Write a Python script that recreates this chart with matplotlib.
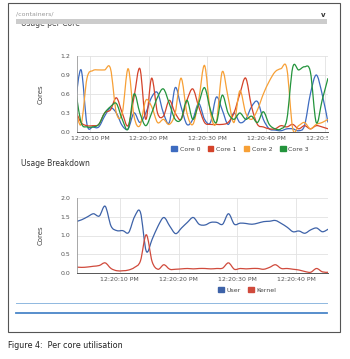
import numpy as np
import matplotlib
matplotlib.use("Agg")
import matplotlib.pyplot as plt
from matplotlib.path import Path
from matplotlib.patches import PathPatch, Patch, Rectangle
from matplotlib.lines import Line2D
from matplotlib.transforms import Bbox, TransformedBbox

# --- data (seconds after 12:20:00) ---
core_t = np.arange(7.5, 51.0, 1.0)
core0 = [0.45, 0.98, 0.12, 0.08, 0.08, 0.25, 0.38, 0.30, 0.10, 0.05, 0.30, 0.15, 0.30, 0.55, 0.62,
         0.30, 0.15, 0.70, 0.40, 0.12, 0.20, 0.45, 0.20, 0.15, 0.55, 0.35, 0.12, 0.30, 0.15, 0.20,
         0.40, 0.48, 0.20, 0.05, 0.03, 0.02, 0.05, 0.05, 0.02, 0.10, 0.60, 0.90, 0.60, 0.15]
core1 = [0.35, 0.15, 0.10, 0.10, 0.12, 0.30, 0.35, 0.54, 0.30, 0.10, 0.55, 1.00, 0.20, 0.85, 0.30,
         0.25, 0.50, 0.30, 0.20, 0.50, 0.68, 0.40, 0.15, 0.12, 0.12, 0.12, 0.15, 0.30, 0.60, 0.85,
         0.40, 0.12, 0.08, 0.05, 0.05, 0.10, 0.08, 0.12, 0.05, 0.10, 0.05, 0.10, 0.08, 0.05]
core2 = [0.40, 0.12, 0.85, 0.97, 0.98, 0.98, 1.00, 0.30, 0.30, 1.00, 0.25, 0.10, 0.50, 0.40, 0.15,
         0.20, 0.12, 0.30, 0.85, 0.30, 0.12, 0.50, 1.05, 0.30, 0.15, 0.95, 0.55, 0.15, 0.65, 0.30,
         0.20, 0.35, 0.60, 0.80, 0.95, 1.00, 1.00, 0.05, 0.10, 0.15, 0.05, 0.12, 0.15, 0.20]
core3 = [0.70, 0.15, 0.08, 0.08, 0.12, 0.30, 0.40, 0.45, 0.20, 0.05, 0.60, 0.30, 0.10, 0.30, 0.55,
         0.68, 0.45, 0.20, 0.20, 0.50, 0.20, 0.45, 0.70, 0.35, 0.15, 0.58, 0.30, 0.20, 0.30, 0.20,
         0.25, 0.15, 0.32, 0.12, 0.05, 0.05, 0.20, 1.02, 0.98, 1.03, 0.95, 0.15, 0.50, 0.85]

usage_t = np.arange(2.5, 46.0, 1.0)
user = [1.37, 1.42, 1.50, 1.58, 1.52, 1.78, 1.25, 1.13, 1.13, 1.08, 1.50, 1.62, 0.58, 0.90, 1.25,
        1.48, 1.25, 1.05, 1.20, 1.35, 1.48, 1.30, 1.28, 1.35, 1.35, 1.30, 1.58, 1.30, 1.33, 1.32,
        1.30, 1.33, 1.37, 1.38, 1.40, 1.32, 1.22, 1.10, 1.12, 1.06, 1.15, 1.20, 1.10, 1.17]
kernel = [0.16, 0.15, 0.16, 0.18, 0.20, 0.27, 0.12, 0.06, 0.06, 0.08, 0.15, 0.32, 1.02, 0.30, 0.10,
          0.22, 0.10, 0.10, 0.11, 0.12, 0.11, 0.12, 0.12, 0.11, 0.12, 0.13, 0.27, 0.10, 0.12, 0.11,
          0.12, 0.12, 0.10, 0.15, 0.22, 0.12, 0.12, 0.10, 0.08, 0.04, 0.02, 0.12, 0.03, 0.02]

core_names = ["Core 0", "Core 1", "Core 2", "Core 3"]
core_colors = ["#3d6bc0", "#d4432a", "#f7a036", "#23943c"]
usage_names = ["User", "Kernel"]
usage_colors = ["#3d62a8", "#d04a3c"]

tick1 = [10, 20, 30, 40, 50]
tick1_labels = ["12:20:10 PM", "12:20:20 PM", "12:20:30 PM", "12:20:40 PM", "12:20:50 PM"]
tick2 = [10, 20, 30, 40]
tick2_labels = ["12:20:10 PM", "12:20:20 PM", "12:20:30 PM", "12:20:40 PM"]


def smooth_line(ax, x, y, color):
    # smooth curve through the points, like the charting lib's "function" curves
    x = np.asarray(x, float)
    y = np.asarray(y, float)
    n = len(x)
    verts = [(x[0], y[0])]
    codes = [Path.MOVETO]
    for i in range(n - 1):
        a = max(i - 1, 0)
        b = min(i + 2, n - 1)
        c1 = (x[i] + (x[i + 1] - x[a]) / 6, y[i] + (y[i + 1] - y[a]) / 6)
        c2 = (x[i + 1] - (x[b] - x[i]) / 6, y[i + 1] - (y[b] - y[i]) / 6)
        verts += [c1, c2, (x[i + 1], y[i + 1])]
        codes += [Path.CURVE4] * 3
    ax.add_patch(PathPatch(Path(verts, codes), fill=False, edgecolor=color, lw=0.9))


def style(ax, yticks, xticks, xlabels):
    ax.set_yticks(yticks)
    ax.set_yticklabels(["%.1f" % v for v in yticks])
    ax.set_xticks(xticks)
    ax.set_xticklabels(xlabels)
    ax.tick_params(length=0, labelsize=4.5, colors="#555555")
    ax.tick_params(axis="y", pad=5)
    ax.tick_params(axis="x", pad=3)
    ax.grid(True, color="#e2e2e2", lw=0.6)
    ax.set_axisbelow(True)
    for s in ["top", "right"]:
        ax.spines[s].set_visible(False)
    ax.spines["left"].set_color("#999999")
    ax.spines["left"].set_linewidth(0.6)
    ax.spines["bottom"].set_color("#555555")
    ax.spines["bottom"].set_linewidth(0.7)
    ax.set_ylabel("Cores", fontsize=5, color="#444444", labelpad=12)


fig = plt.figure(figsize=(3.5, 3.59), dpi=100)
W, H = 350.0, 359.0

# chart 1
ax1 = fig.add_axes([77 / W, 1 - 132 / H, 251 / W, 76 / H])
for vals, c in zip([core0, core1, core2, core3], core_colors):
    smooth_line(ax1, core_t, vals, c)
ax1.set_xlim(7.8, 50.5)
ax1.set_ylim(0, 1.2)
style(ax1, [0.0, 0.3, 0.6, 0.9, 1.2], tick1, tick1_labels)
clip = TransformedBbox(Bbox([[-0.5, -2.0], [1.0, 1.0]]), ax1.transAxes)
for lbl in ax1.get_xticklabels():
    lbl.set_clip_box(clip)
    lbl.set_clip_on(True)

fig.legend([Patch(color=c) for c in core_colors], core_names, loc="center",
           bbox_to_anchor=(240 / W, 1 - 149 / H), ncol=4, frameon=False, fontsize=4.5,
           handlelength=0.9, handleheight=0.9, handletextpad=0.4, columnspacing=1.2,
           labelcolor="#444444")

# chart 2
ax2 = fig.add_axes([77 / W, 1 - 273 / H, 251 / W, 75 / H])
for vals, c in zip([user, kernel], usage_colors):
    smooth_line(ax2, usage_t, vals, c)
ax2.set_xlim(2.7, 45.45)
ax2.set_ylim(0, 2.0)
style(ax2, [0.0, 0.5, 1.0, 1.5, 2.0], tick2, tick2_labels)

fig.legend([Patch(color=c) for c in usage_colors], usage_names, loc="center",
           bbox_to_anchor=(247 / W, 1 - 290 / H), ncol=2, frameon=False, fontsize=4.5,
           handlelength=0.9, handleheight=0.9, handletextpad=0.4, columnspacing=1.2,
           labelcolor="#444444")

# page furniture
fig.patches.append(Rectangle((8 / W, 1 - 332 / H), 332 / W, 329 / H, transform=fig.transFigure,
                             fill=False, edgecolor="#555555", lw=0.8, zorder=0))
fig.text(16 / W, 1 - 14 / H, "/containers/", fontsize=4.5, color="#999999", va="center")
fig.text(323 / W, 1 - 15 / H, "v", fontsize=5, color="#333333", va="center", ha="center",
         fontweight="bold")
fig.text(21 / W, 1 - 23.5 / H, "Usage per Core", fontsize=5.5, color="#444444", va="center", zorder=1)
fig.patches.append(Rectangle((16 / W, 1 - 24 / H), 311 / W, 4.5 / H, transform=fig.transFigure,
                             facecolor="#cccccc", edgecolor="none", zorder=2))
fig.text(21 / W, 1 - 164 / H, "Usage Breakdown", fontsize=5.5, color="#333333", va="center")
fig.lines.append(Line2D([16 / W, 327 / W], [1 - 303 / H, 1 - 303 / H], transform=fig.transFigure,
                        color="#8fb8e0", lw=0.7))
fig.lines.append(Line2D([16 / W, 327 / W], [1 - 313 / H, 1 - 313 / H], transform=fig.transFigure,
                        color="#4a86c8", lw=1.3))
fig.text(8 / W, 1 - 345 / H, "Figure 4:  Per core utilisation", fontsize=5.8, color="#222222",
         va="center")

fig.savefig("out.png", dpi=100)
